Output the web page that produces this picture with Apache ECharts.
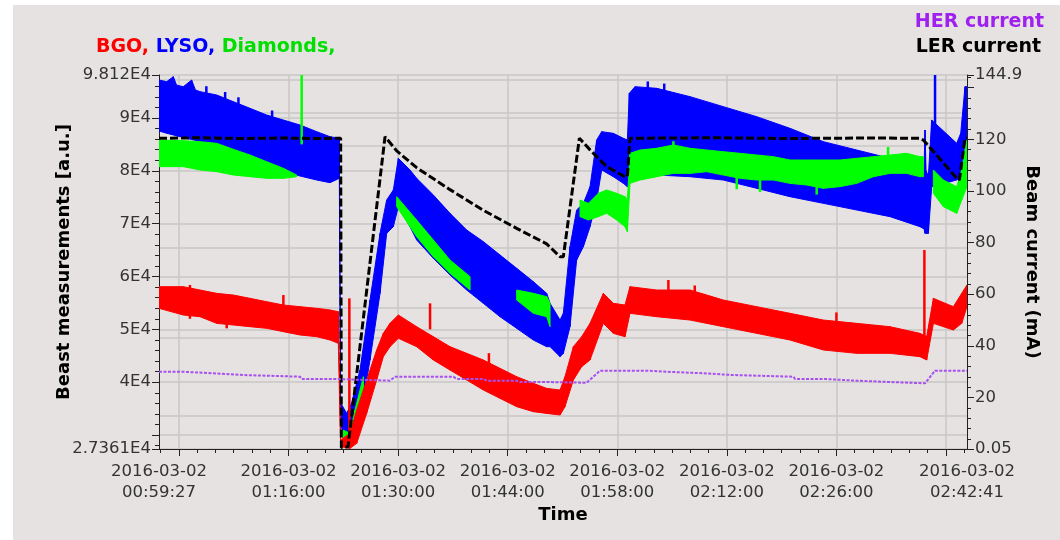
<!DOCTYPE html>
<html><head><meta charset="utf-8">
<script src="https://cdn.jsdelivr.net/npm/echarts@6/dist/echarts.min.js"></script>
<style>html,body{margin:0;padding:0;background:#fff}#c{width:1060px;height:540px}</style>
</head><body><div id="c"></div><script>
// time axis in minutes after 2016-03-02 00:00:00
const timeMin = 59.45;            // 00:59:27
const timeMax = 9761 / 60;        // 02:42:41
const timeLabels = [59.45, 76, 90, 104, 118, 132, 146, 9761 / 60];
const timeMajorTicks = [62, 76, 90, 104, 118, 132, 146, 160];
const leftMin = 27361, leftMax = 98120;
const leftLabels = [27361, 40000, 50000, 60000, 70000, 80000, 90000, 98120];
const leftMajorTicks = [27361, 30000, 40000, 50000, 60000, 70000, 80000, 90000, 98120];
const rightMin = 0.05, rightMax = 144.9;
const rightLabels = [0.05, 20, 40, 60, 80, 100, 120, 144.9];
const rightMajorTicks = [0.05, 20, 40, 60, 80, 100, 120, 140, 144.9];
const extraGridLeft = [97174, 90987, 84687, 65388, 54036, 48360, 33602];

// [minute, low, high]
const bgoBand = [
 [59.45,53970,58070],[62.56,52710,58070],[64.69,52390,57440],[66.82,51130,56810],[68.95,50820,56490],
 [71.08,50500,55860],[73.21,50190,55230],[75.34,49560,54600],[77.47,48930,54290],[79.60,48610,53970],
 [81.30,47980,53660],[82.36,47350,53340],[82.66,27800,29060],[83.85,27480,30320],[84.71,28430,34730],
 [85.98,34100,40410],[87.26,40410,46090],[88.11,44830,49240],[88.96,46720,51130],[90.03,48300,52710],
 [92.37,46720,50500],[94.50,44200,48610],[96.63,42300,46720],[98.76,40410,45460],[100.89,38520,44200],
 [103.02,36940,42620],[105.15,35370,41040],[107.28,34420,39780],[108.98,34100,38830],[110.69,33790,38520],
 [111.32,35370,41040],[112.39,40410,46720],[113.45,42930,48610],[114.52,44200,51130],[116.22,51130,56810],
 [117.50,49240,54920],[118.99,48610,54600],[119.63,53030,58070],[123.04,52390,57440],[127.30,51760,57440],
 [131.55,50500,55550],[135.81,49240,54290],[140.07,47980,53030],[144.33,46090,51760],[148.59,45460,51130],
 [152.85,45460,50500],[156.68,44830,49240],[157.53,44200,48610],[158.39,51130,55860],[160.94,49870,54290],
 [162.01,51130,56810],[162.68,54290,58390]
];
const bgoSpikes = [[83.77,28000,55860],[94.08,50000,54920],[124.53,57000,59330],[157.24,48000,65010],
 [75.34,54000,56490],[68.10,50190,52000],[63.4,52000,58400],[101.6,43000,45500],[127.9,56000,58300],[146.0,46000,53200]];

const lysoBand = [
 [59.45,87520,97170],[60.43,87100,96860],[61.28,86770,97800],[61.70,86600,96200],[62.56,86330,95910],
 [63.62,85900,97170],[64.10,85750,95300],[64.69,85510,94970],[66.82,84430,94340],[68.95,83300,93070],
 [71.08,82040,91810],[73.21,80900,90550],[75.34,79830,89600],[77.47,79010,88660],[79.60,78250,87400],
 [81.30,77750,86450],[82.49,78570,86140],[82.66,31580,36070],[83.43,29690,34100],[84.06,29690,36070],
 [85.13,32840,42300],[86.41,44200,55550],[87.69,56810,68160],[88.54,68160,74470],[89.39,69420,76360],
 [90.03,73210,82350],[91.52,69420,80150],[92.37,66900,78570],[94.50,63430,75420],[96.63,60280,71950],
 [98.76,57440,68790],[100.89,54920,66590],[103.02,52390,64060],[105.15,50190,61540],[107.28,47980,59020],
 [108.98,46720,56810],[109.41,46720,54920],[110.69,44830,51760],[111.11,45460,53030],[111.96,50500,65640],
 [112.81,63120,72580],[113.67,65640,73840],[114.52,69420,76990],[115.37,74470,85820],[116.01,80150,87400],
 [117.50,78880,87080],[118.78,77620,86140],[119.29,76990,85820],[119.54,80150,94650],[120.27,79700,95910],
 [123.04,79200,95600],[127.30,78880,94020],[131.55,78250,92130],[135.81,76680,90240],[140.07,75100,88030],
 [144.33,73840,85510],[148.59,72580,83930],[152.85,71320,82350],[156.68,69420,80780],[157.20,69000,80500],
 [157.32,68160,87710],[157.45,68160,80000],[157.75,68160,79000],[158.17,76990,89600],[161.37,78250,85190],
 [161.88,78880,87080],[162.43,85190,95910],[162.68,85820,95910]
];
const lysoSpikes = [[158.60,85000,98120],[65.5,90000,96000],[67.9,89000,94900],[69.6,88000,93900],[73.9,86000,91400],[121.9,90000,96900],[124.0,90000,96500]];

const diamondBand = [
 [59.45,80780,85820],[62.56,80780,85700],[64.69,80150,85510],[66.82,79830,85190],[68.95,79200,84060],
 [71.08,78880,82980],[73.21,78570,81720],[75.34,78570,80460],[77.04,78880,79200],null,
 [82.96,27800,30950],[83.85,27800,30320],[84.49,30950,34730],[85.56,37890,41040],null,
 [89.82,73210,75100],[92.37,67530,70680],[94.50,63750,66900],[96.63,60590,63120],[99.19,57440,59960],null,
 [105.15,55550,57440],[107.28,53030,56810],[108.98,52390,56180],[109.41,50500,54920],null,
 [113.24,71320,74470],[114.31,70680,73840],[115.58,71320,75730],[116.65,71950,76360],[117.93,70680,75730],
 [118.99,69420,75100],[119.29,68480,74470],[119.63,77620,83300],[120.91,78250,83930],[123.04,78880,84250],
 [125.17,79510,84880],[127.30,79510,84250],[129.43,79830,83930],[131.55,79200,83610],[133.68,78570,83300],
 [135.81,78250,82980],[137.94,78250,82670],[140.07,77620,82040],[142.20,77310,82040],[144.33,76680,82040],
 [146.46,77000,82040],[148.59,77620,82350],[150.72,78880,82670],[152.85,79510,82980],[154.98,79510,83300],
 [156.68,78880,82670],[157.11,78880,82670],null,
 [158.39,75730,80150],[159.66,73210,78250],[161.37,71950,76990],[162.01,74470,80150],[162.68,76990,85820]
];
const diamondSpikes = [[77.68,85000,98120],[125.17,83000,85600],[152.6,82000,84500],[133.26,76500,79000],[136.24,76000,78500],[143.48,75500,77500]];

// [minute, mA]
const lerCurrent = [
 [59.45,120.4],[65,120.6],[70,120.3],[75,120.5],[80,120.3],[82.66,120.4],[82.75,0.6],[83.6,0.9],
 [88.33,121.0],[89.82,115.5],[92.37,109.0],[96.63,100.5],[100.89,92.5],[105.15,85.5],[108.98,79.5],
 [110.69,74.5],[111.11,74.5],[113.16,120.4],[114.52,115.9],[116.65,109.4],[118.99,105.5],[119.29,105.5],
 [119.63,120.4],[130,120.6],[140,120.3],[150,120.5],[156.68,120.4],[157.11,119.7],[161.37,104.9],
 [161.71,104.2],[162.43,120.4],[162.68,120.4]
];
const herCurrent = [
 [59.45,30.0],[62.35,30.0],[62.56,29.35],[66.39,29.35],[66.61,28.7],[70.23,28.7],[70.44,28.05],[77.47,28.05],
 [77.68,27.2],[81.51,27.2],[81.72,26.5],[88.96,26.5],[89.60,28.05],[97.06,28.05],[97.48,27.2],[100.89,27.2],
 [101.32,26.5],[105.15,26.5],[105.57,26.0],[108.98,26.0],[109.2,25.7],[114.09,25.7],[115.80,30.4],[121.76,30.4],
 [121.97,29.8],[125.59,29.8],[125.80,29.4],[129.0,29.4],[129.21,28.7],[132.62,28.7],[132.83,28.05],[140.50,28.05],
 [140.71,27.2],[144.33,27.2],[144.54,26.5],[148.59,26.5],[148.80,26.0],[152.85,26.0],[153.06,25.5],[157.32,25.5],
 [158.60,30.4],[162.68,30.4]
];

function pad(n){return (n<10?'0':'')+n;}
function fmtTime(m){const s=Math.round(m*60);return '2016-03-02\n'+pad(Math.floor(s/3600))+':'+pad(Math.floor(s%3600/60))+':'+pad(s%60);}
function minors(a,b,step,start){const r=[];for(let v=start;v<=b+1e-9;v+=step){if(v>=a-1e-9)r.push(+v.toFixed(4));}return r;}

const FONT='DejaVu Sans';
const gridLine={show:true,lineStyle:{color:'#c9c6c6',width:1.5}};

function bandSeries(name,band,color,z){
  return {type:'custom',name,xAxisIndex:0,yAxisIndex:0,z,clip:true,silent:true,
    data:band.map(p=>p?p:['-','-','-']),encode:{x:0,y:[1,2]},
    renderItem:(params,api)=>{
      const i=params.dataIndex;
      if(i>=band.length-1)return null;
      const a=band[i],b=band[i+1];
      if(!a||!b)return null;
      const pts=[api.coord([a[0],a[2]]),api.coord([b[0],b[2]]),api.coord([b[0],b[1]]),api.coord([a[0],a[1]])];
      return {type:'polygon',shape:{points:pts},style:{fill:color,stroke:color,lineWidth:1}};
    }};
}
function spikeSeries(name,spikes,color,z){
  return {type:'custom',name,xAxisIndex:0,yAxisIndex:0,z,clip:true,silent:true,
    data:spikes,encode:{x:0,y:[1,2]},
    renderItem:(params,api)=>{
      const s=spikes[params.dataIndex];
      const p1=api.coord([s[0],s[1]]),p2=api.coord([s[0],s[2]]);
      return {type:'line',shape:{x1:p1[0],y1:p1[1],x2:p2[0],y2:p2[1]},style:{stroke:color,lineWidth:2.5}};
    }};
}

const axisLine={show:true,lineStyle:{color:'#222',width:1}};
const tickStyle={color:'#222',width:1};
const labelStyle={color:'#333',fontFamily:FONT,fontSize:16.5};
const nameStyle={color:'#000',fontFamily:FONT,fontSize:18,fontWeight:'bold'};
const LF='bold 19px "DejaVu Sans"';

const option={
  backgroundColor:'#fff',
  animation:false,
  graphic:[
    {type:'rect',z:-100,silent:true,shape:{x:13,y:5,width:1047,height:535},style:{fill:'#e6e2e2'}},
    {type:'text',x:96,y:47,silent:true,style:{text:'{r|BGO,} {b|LYSO,} {g|Diamonds,}',verticalAlign:'middle',
      font:LF,rich:{r:{fill:'#ff0000',font:LF},b:{fill:'#0000ff',font:LF},g:{fill:'#00e000',font:LF}}}},
    {type:'text',x:1044,y:22,silent:true,style:{text:'HER current',align:'right',verticalAlign:'middle',fill:'#a020f0',font:LF}},
    {type:'text',x:1041,y:47,silent:true,style:{text:'LER current',align:'right',verticalAlign:'middle',fill:'#000',font:LF}}
  ],
  grid:{left:159,right:93,top:75,bottom:91,containLabel:false,show:false},
  xAxis:[
    {type:'value',min:timeMin,max:timeMax,position:'bottom',
     name:'Time',nameLocation:'middle',nameGap:57,nameMoveOverlap:false,nameTextStyle:nameStyle,
     axisLine:axisLine,
     axisTick:{show:true,length:7,lineStyle:tickStyle,customValues:timeMajorTicks},
     axisLabel:{...labelStyle,margin:12,lineHeight:21,customValues:timeLabels,formatter:fmtTime,showMinLabel:true,showMaxLabel:true},
     splitLine:gridLine},
    {type:'value',min:timeMin,max:timeMax,position:'bottom',
     axisLine:{show:false},axisLabel:{show:false},splitLine:{show:false},
     axisTick:{show:true,length:4,lineStyle:tickStyle,customValues:minors(timeMin,timeMax,14/6,62-14/6*1)}}
  ],
  yAxis:[
    {type:'value',min:leftMin,max:leftMax,position:'left',
     name:'Beast measurements [a.u.]',nameLocation:'middle',nameRotate:90,nameGap:86,nameMoveOverlap:false,nameTextStyle:nameStyle,
     axisLine:axisLine,
     axisTick:{show:true,length:7,lineStyle:tickStyle,customValues:leftMajorTicks},
     axisLabel:{...labelStyle,margin:8,customValues:leftLabels,formatter:v=>(v/1e4)+'E4'},
     splitLine:gridLine},
    {type:'value',min:rightMin,max:rightMax,position:'right',
     name:'Beam current (mA)',nameLocation:'middle',nameRotate:-90,nameGap:56,nameMoveOverlap:false,nameTextStyle:nameStyle,
     axisLine:axisLine,
     axisTick:{show:true,length:7,lineStyle:tickStyle,customValues:rightMajorTicks},
     axisLabel:{...labelStyle,margin:8,customValues:rightLabels,formatter:v=>String(v)},
     splitLine:{show:false}},
    {type:'value',min:leftMin,max:leftMax,position:'left',
     axisLine:{show:false},axisLabel:{show:false},splitLine:{show:false},
     axisTick:{show:true,length:4,lineStyle:tickStyle,customValues:minors(leftMin,leftMax,2000,28000)}},
    {type:'value',min:rightMin,max:rightMax,position:'right',
     axisLine:{show:false},axisLabel:{show:false},splitLine:{show:false},
     axisTick:{show:true,length:4,lineStyle:tickStyle,customValues:minors(rightMin,rightMax,4,4)}},
    {type:'value',min:leftMin,max:leftMax,position:'left',
     axisLine:{show:false},axisLabel:{show:false},
     axisTick:{show:false,customValues:extraGridLeft},
     splitLine:gridLine}
  ],
  series:[
    bandSeries('LYSO',lysoBand,'#0000ff',2),
    spikeSeries('LYSO spikes',lysoSpikes,'#0000ff',2),
    bandSeries('Diamonds',diamondBand,'#00ff00',3),
    spikeSeries('Diamond spikes',diamondSpikes,'#00ff00',3),
    bandSeries('BGO',bgoBand,'#ff0000',4),
    spikeSeries('BGO spikes',bgoSpikes,'#ff0000',4),
    {type:'line',name:'LER current',xAxisIndex:0,yAxisIndex:1,z:5,data:lerCurrent,showSymbol:false,symbol:'none',
     lineStyle:{color:'#000',width:3,type:[8,3]}},
    {type:'line',name:'HER current',xAxisIndex:0,yAxisIndex:1,z:6,data:herCurrent,showSymbol:false,symbol:'none',
     lineStyle:{color:'#a650f0',width:2,type:[3,1.5]}}
  ]
};
const chart=echarts.init(document.getElementById('c'));
chart.setOption(option);
</script></body></html>
